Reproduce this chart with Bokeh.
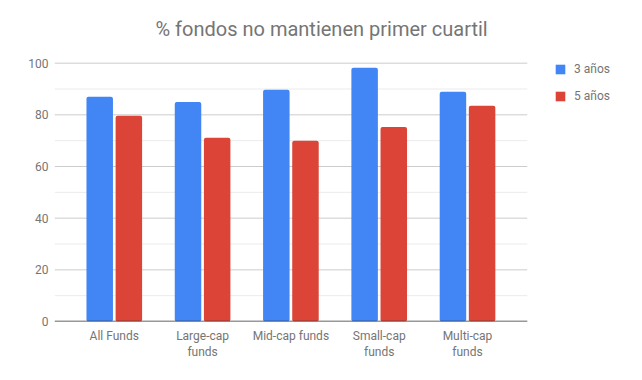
from bokeh.plotting import figure
from bokeh.models import Range1d, Legend, LegendItem, FixedTicker, ColumnDataSource
from bokeh.transform import dodge
from bokeh.embed import file_html
from bokeh.resources import INLINE

title_text = "% fondos no mantienen primer cuartil"
categories = ["All Funds", "Large-cap funds", "Mid-cap funds", "Small-cap funds", "Multi-cap funds"]
tick_labels = ["All Funds", "Large-cap\nfunds", "Mid-cap funds", "Small-cap\nfunds", "Multi-cap\nfunds"]
series_names = ["3 años", "5 años"]
values_3 = [87.0, 85.0, 89.7, 98.2, 88.9]
values_5 = [79.6, 71.1, 70.0, 75.3, 83.5]
y_ticks = [0, 20, 40, 60, 80, 100]
y_minor = [10, 30, 50, 70, 90]

BLUE = "#4285F4"
RED = "#DB4437"
GREY = "#757575"
FONT = "Roboto"

n = len(categories)
idx = list(range(n))
x_pad = 0.677          # space between plot edge and first/last category (in category widths)
x_extra = 1.214        # extra room on the right for the legend
y_top = 104.9          # frame extends a little above the top gridline
src = ColumnDataSource(data=dict(idx=idx, cat=categories, v3=values_3, v5=values_5))

p = figure(width=634, height=372,
           x_range=Range1d(-x_pad, n - 1 + x_pad + x_extra),
           y_range=Range1d(0, y_top),
           output_backend="svg", toolbar_location=None,
           min_border_left=54, min_border_right=0,
           min_border_top=50, min_border_bottom=51)

p.title.text = title_text
p.title.text_font = FONT
p.title.text_font_size = "20px"
p.title.text_font_style = "normal"
p.title.text_color = GREY
p.title.align = "left"
p.title.vertical_align = "bottom"
p.title.offset = 101
p.title.standoff = 19

# grid lines limited to the category area
gx0 = -x_pad
gx1 = n - 1 + x_pad
p.segment(x0=[gx0] * len(y_minor), x1=[gx1] * len(y_minor), y0=y_minor, y1=y_minor,
          line_color="#ebebeb", line_width=1)
p.segment(x0=[gx0] * (len(y_ticks) - 1), x1=[gx1] * (len(y_ticks) - 1),
          y0=y_ticks[1:], y1=y_ticks[1:], line_color="#cccccc", line_width=1)

r3 = p.vbar(x=dodge("idx", -0.165), top="v3", width=0.30, bottom=0,
            source=src, color=BLUE, line_color=None, border_radius=2)
r5 = p.vbar(x=dodge("idx", 0.165), top="v5", width=0.30, bottom=0,
            source=src, color=RED, line_color=None, border_radius=2)

p.segment(x0=[gx0], x1=[gx1], y0=[y_ticks[0]], y1=[y_ticks[0]], line_color="#333333", line_width=1.5)

p.outline_line_color = None
p.xgrid.grid_line_color = None
p.ygrid.grid_line_color = None
p.yaxis.ticker = FixedTicker(ticks=y_ticks, minor_ticks=[])
p.yaxis.axis_line_color = None
p.yaxis.major_tick_line_color = None
p.yaxis.minor_tick_line_color = None
p.yaxis.major_tick_out = 0
p.yaxis.major_tick_in = 0
p.yaxis.major_label_standoff = 6
p.yaxis.major_label_text_font = FONT
p.yaxis.major_label_text_font_size = "12px"
p.yaxis.major_label_text_color = GREY

p.xaxis.ticker = FixedTicker(ticks=idx, minor_ticks=[])
p.xaxis.major_label_overrides = {i: lab for i, lab in zip(idx, tick_labels)}
p.xaxis.axis_line_color = None
p.xaxis.major_tick_line_color = None
p.xaxis.minor_tick_line_color = None
p.xaxis.major_tick_out = 0
p.xaxis.major_tick_in = 0
p.xaxis.major_label_standoff = 7
p.xaxis.major_label_text_font = FONT
p.xaxis.major_label_text_font_size = "12px"
p.xaxis.major_label_text_color = GREY

legend = Legend(items=[LegendItem(label=series_names[0], renderers=[r3]),
                       LegendItem(label=series_names[1], renderers=[r5])],
                location=(500, 218))
legend.border_line_color = None
legend.background_fill_alpha = 0
legend.padding = 0
legend.margin = 0
legend.glyph_width = 12
legend.glyph_height = 12
legend.label_height = 12
legend.spacing = 13
legend.label_standoff = 8
legend.label_text_font = FONT
legend.label_text_font_size = "12px"
legend.label_text_color = GREY
p.add_layout(legend)

open("out.html", "w").write(file_html(p, INLINE))
